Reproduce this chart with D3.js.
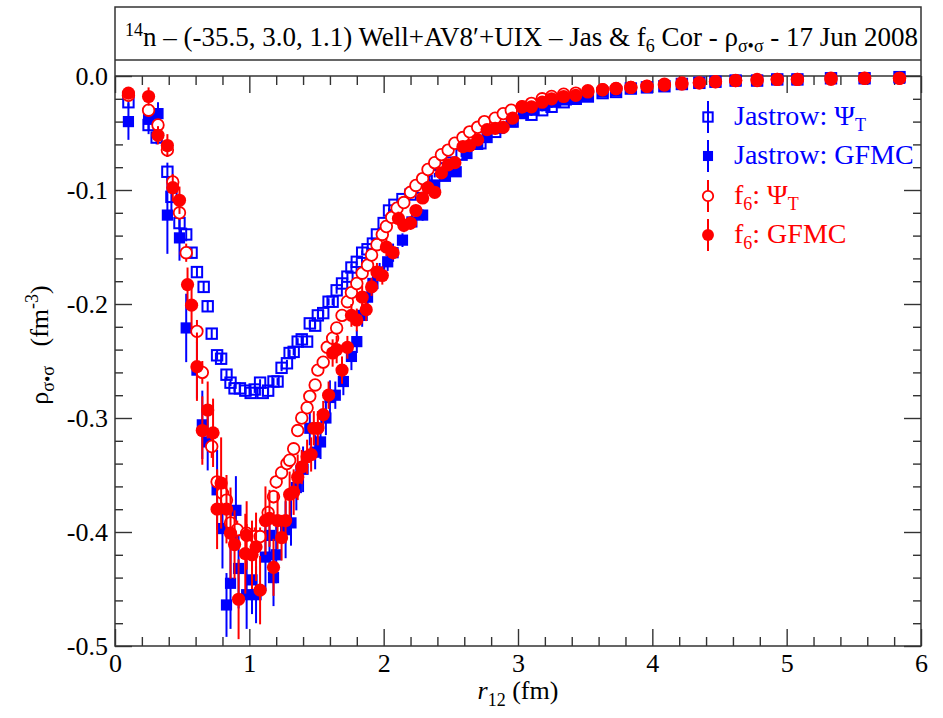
<!DOCTYPE html>
<html>
<head>
<meta charset="utf-8">
<script src="https://cdn.jsdelivr.net/npm/d3@7"></script>
<style>
  html, body { margin: 0; padding: 0; background: #fff; }
  svg text { font-family: "Liberation Serif", "Times New Roman", serif; }
</style>
</head>
<body>
<svg id="chart" width="943" height="718"></svg>
<script>
// ---- data: [r12 (fm), rho (fm^-3), error] ----
const jastrowPsiT = [
  [0.10,-0.023,0.004],[0.25,-0.043,0.008],[0.31,-0.054,0.006],[0.39,-0.084,0.008],[0.42,-0.106,0.012],
  [0.48,-0.129,0.006],[0.53,-0.139,0.006],[0.57,-0.155,0.005],[0.61,-0.172,0.005],[0.66,-0.185,0.005],
  [0.69,-0.202,0.005],[0.72,-0.226,0.004],[0.76,-0.245,0.004],[0.79,-0.248,0.004],[0.83,-0.262,0.004],
  [0.86,-0.269,0.003],[0.89,-0.274,0.003],[0.93,-0.274,0.003],[0.97,-0.276,0.003],[1.01,-0.278,0.003],
  [1.04,-0.275,0.003],[1.08,-0.269,0.003],[1.10,-0.278,0.003],[1.14,-0.276,0.003],[1.18,-0.268,0.003],
  [1.21,-0.268,0.003],[1.24,-0.256,0.003],[1.28,-0.252,0.003],[1.30,-0.243,0.003],[1.33,-0.242,0.003],
  [1.36,-0.233,0.003],[1.39,-0.231,0.003],[1.43,-0.233,0.003],[1.45,-0.217,0.003],[1.49,-0.219,0.003],
  [1.51,-0.210,0.003],[1.55,-0.208,0.003],[1.59,-0.198,0.003],[1.62,-0.198,0.003],[1.65,-0.188,0.003],
  [1.69,-0.182,0.003],[1.73,-0.176,0.003],[1.76,-0.168,0.003],[1.80,-0.163,0.003],[1.84,-0.155,0.002],
  [1.88,-0.152,0.002],[1.92,-0.147,0.002],[1.95,-0.139,0.002],[2.00,-0.129,0.002],[2.04,-0.118,0.002],
  [2.08,-0.113,0.002],[2.14,-0.108,0.002],[2.20,-0.104,0.002],[2.26,-0.098,0.002],[2.32,-0.092,0.002],
  [2.38,-0.087,0.002],[2.44,-0.081,0.002],[2.50,-0.076,0.002],[2.58,-0.069,0.002],[2.72,-0.059,0.002],
  [2.83,-0.049,0.002],[2.96,-0.040,0.002],[3.10,-0.034,0.001],[3.18,-0.030,0.001],[3.25,-0.027,0.001],
  [3.34,-0.023,0.001],[3.43,-0.020,0.001],[3.52,-0.018,0.001],[3.63,-0.015,0.001],[3.73,-0.014,0.001],
  [3.84,-0.011,0.001],[3.96,-0.010,0.001],[4.09,-0.009,0.001],[4.22,-0.007,0.001],[4.35,-0.006,0.001],
  [4.47,-0.005,0.001],[4.62,-0.004,0.001],[4.78,-0.004,0.001],[4.93,-0.003,0.001],[5.08,-0.003,0.001],
  [5.33,-0.002,0.001],[5.58,-0.002,0.001],[5.84,-0.001,0.001]
];

const jastrowGfmc = [
  [0.10,-0.040,0.016],[0.25,-0.038,0.010],[0.32,-0.033,0.010],[0.39,-0.122,0.034],[0.48,-0.142,0.020],
  [0.53,-0.221,0.030],[0.61,-0.258,0.025],[0.65,-0.306,0.030],[0.69,-0.321,0.025],[0.76,-0.363,0.035],
  [0.80,-0.397,0.035],[0.83,-0.464,0.028],[0.86,-0.445,0.040],[0.90,-0.381,0.030],[0.92,-0.432,0.035],
  [0.98,-0.455,0.030],[1.02,-0.442,0.030],[1.05,-0.455,0.025],[1.12,-0.422,0.030],[1.15,-0.403,0.025],
  [1.18,-0.440,0.025],[1.20,-0.420,0.025],[1.27,-0.398,0.025],[1.31,-0.392,0.020],[1.35,-0.361,0.020],
  [1.40,-0.345,0.020],[1.45,-0.309,0.015],[1.49,-0.330,0.015],[1.53,-0.321,0.015],[1.57,-0.300,0.015],
  [1.60,-0.282,0.015],[1.64,-0.280,0.012],[1.70,-0.268,0.012],[1.76,-0.246,0.012],[1.80,-0.233,0.010],
  [1.84,-0.210,0.010],[1.88,-0.194,0.010],[1.92,-0.182,0.008],[1.97,-0.172,0.008],[2.03,-0.163,0.008],
  [2.07,-0.155,0.008],[2.14,-0.144,0.006],[2.21,-0.128,0.006],[2.29,-0.122,0.005],[2.38,-0.097,0.005],
  [2.46,-0.088,0.004],[2.54,-0.084,0.004],[2.62,-0.068,0.004],[2.70,-0.060,0.003],[2.77,-0.054,0.003],
  [2.86,-0.046,0.003],[2.95,-0.040,0.003],[3.04,-0.033,0.002],[3.12,-0.030,0.002],[3.20,-0.026,0.002],
  [3.28,-0.023,0.002],[3.36,-0.021,0.002],[3.43,-0.019,0.002],[3.52,-0.017,0.001],[3.63,-0.014,0.001],
  [3.73,-0.013,0.001],[3.84,-0.011,0.001],[3.96,-0.010,0.001],[4.09,-0.009,0.001],[4.22,-0.007,0.001],
  [4.35,-0.006,0.001],[4.47,-0.005,0.001],[4.62,-0.004,0.001],[4.78,-0.004,0.001],[4.93,-0.003,0.001],
  [5.08,-0.003,0.001],[5.33,-0.002,0.001],[5.58,-0.002,0.001],[5.84,-0.002,0.001]
];

const f6PsiT = [
  [0.10,-0.017,0.003],[0.25,-0.030,0.004],[0.32,-0.043,0.005],[0.39,-0.065,0.006],[0.43,-0.093,0.006],
  [0.48,-0.120,0.006],[0.53,-0.155,0.008],[0.61,-0.224,0.010],[0.65,-0.260,0.010],[0.72,-0.325,0.010],
  [0.76,-0.356,0.010],[0.80,-0.366,0.008],[0.83,-0.372,0.008],[0.86,-0.392,0.008],[0.91,-0.398,0.008],
  [0.98,-0.401,0.008],[1.04,-0.404,0.008],[1.08,-0.404,0.008],[1.14,-0.383,0.006],[1.18,-0.369,0.006],
  [1.20,-0.356,0.006],[1.24,-0.348,0.006],[1.28,-0.340,0.006],[1.30,-0.337,0.005],[1.33,-0.327,0.005],
  [1.36,-0.311,0.005],[1.39,-0.300,0.005],[1.43,-0.291,0.005],[1.45,-0.281,0.005],[1.49,-0.271,0.004],
  [1.51,-0.258,0.004],[1.55,-0.251,0.004],[1.58,-0.238,0.004],[1.62,-0.230,0.004],[1.65,-0.221,0.004],
  [1.69,-0.210,0.004],[1.73,-0.198,0.003],[1.76,-0.190,0.003],[1.80,-0.182,0.003],[1.84,-0.173,0.003],
  [1.88,-0.166,0.003],[1.91,-0.157,0.003],[1.95,-0.148,0.003],[1.99,-0.139,0.003],[2.02,-0.132,0.003],
  [2.06,-0.124,0.003],[2.10,-0.116,0.002],[2.15,-0.111,0.002],[2.20,-0.102,0.002],[2.24,-0.096,0.002],
  [2.29,-0.090,0.002],[2.33,-0.082,0.002],[2.38,-0.076,0.002],[2.43,-0.069,0.002],[2.48,-0.065,0.002],
  [2.53,-0.059,0.002],[2.59,-0.054,0.002],[2.64,-0.049,0.002],[2.70,-0.045,0.002],[2.75,-0.040,0.002],
  [2.83,-0.037,0.001],[2.89,-0.033,0.001],[2.95,-0.030,0.001],[3.03,-0.027,0.001],[3.10,-0.024,0.001],
  [3.18,-0.020,0.001],[3.25,-0.018,0.001],[3.34,-0.016,0.001],[3.43,-0.015,0.001],[3.52,-0.013,0.001],
  [3.63,-0.012,0.001],[3.73,-0.011,0.001],[3.84,-0.010,0.001],[3.96,-0.009,0.001],[4.09,-0.008,0.001],
  [4.22,-0.007,0.001],[4.35,-0.006,0.001],[4.47,-0.005,0.001],[4.62,-0.004,0.001],[4.78,-0.004,0.001],
  [4.93,-0.003,0.001],[5.08,-0.003,0.001],[5.33,-0.002,0.001],[5.58,-0.002,0.001],[5.84,-0.002,0.001]
];

const f6Gfmc = [
  [0.10,-0.015,0.004],[0.25,-0.018,0.008],[0.32,-0.052,0.008],[0.39,-0.061,0.010],[0.43,-0.098,0.012],
  [0.48,-0.109,0.012],[0.54,-0.183,0.015],[0.57,-0.201,0.020],[0.61,-0.255,0.030],[0.65,-0.311,0.030],
  [0.69,-0.293,0.025],[0.73,-0.313,0.030],[0.76,-0.380,0.035],[0.79,-0.357,0.040],[0.83,-0.380,0.030],
  [0.86,-0.401,0.040],[0.89,-0.411,0.030],[0.92,-0.459,0.035],[0.97,-0.419,0.035],[0.98,-0.403,0.030],
  [1.02,-0.420,0.030],[1.05,-0.413,0.030],[1.08,-0.451,0.030],[1.12,-0.390,0.030],[1.15,-0.388,0.025],
  [1.18,-0.431,0.025],[1.21,-0.390,0.025],[1.24,-0.405,0.020],[1.27,-0.390,0.020],[1.30,-0.367,0.020],
  [1.33,-0.365,0.020],[1.36,-0.352,0.020],[1.39,-0.343,0.015],[1.43,-0.334,0.015],[1.46,-0.332,0.015],
  [1.48,-0.309,0.015],[1.51,-0.309,0.015],[1.55,-0.297,0.012],[1.59,-0.280,0.012],[1.62,-0.243,0.012],
  [1.65,-0.240,0.012],[1.69,-0.258,0.012],[1.73,-0.238,0.010],[1.76,-0.210,0.010],[1.80,-0.214,0.010],
  [1.84,-0.194,0.010],[1.87,-0.205,0.010],[1.91,-0.185,0.008],[1.95,-0.172,0.008],[1.99,-0.175,0.008],
  [2.02,-0.150,0.008],[2.07,-0.155,0.006],[2.11,-0.125,0.006],[2.15,-0.131,0.006],[2.20,-0.129,0.006],
  [2.24,-0.118,0.005],[2.29,-0.107,0.005],[2.33,-0.098,0.005],[2.38,-0.102,0.004],[2.43,-0.085,0.004],
  [2.48,-0.078,0.004],[2.53,-0.076,0.004],[2.59,-0.062,0.003],[2.64,-0.061,0.003],[2.70,-0.056,0.003],
  [2.77,-0.047,0.003],[2.83,-0.046,0.003],[2.89,-0.045,0.003],[2.96,-0.037,0.002],[3.03,-0.027,0.002],
  [3.10,-0.027,0.002],[3.18,-0.023,0.002],[3.25,-0.020,0.002],[3.34,-0.018,0.002],[3.43,-0.017,0.001],
  [3.52,-0.014,0.001],[3.63,-0.012,0.001],[3.73,-0.011,0.001],[3.84,-0.010,0.001],[3.96,-0.009,0.001],
  [4.09,-0.007,0.001],[4.22,-0.006,0.001],[4.35,-0.006,0.001],[4.47,-0.005,0.001],[4.62,-0.004,0.001],
  [4.78,-0.003,0.001],[4.93,-0.003,0.001],[5.08,-0.003,0.001],[5.33,-0.003,0.001],[5.58,-0.002,0.001],
  [5.84,-0.002,0.001]
];

// ---- ticks ----
const xMajorTicks = [0, 1, 2, 3, 4, 5, 6];
const xTickLabels = ["0", "1", "2", "3", "4", "5", "6"];
const xMinorTicks = [0.2,0.4,0.6,0.8,1.2,1.4,1.6,1.8,2.2,2.4,2.6,2.8,3.2,3.4,3.6,3.8,4.2,4.4,4.6,4.8,5.2,5.4,5.6,5.8];
const yMajorTicks = [0, -0.1, -0.2, -0.3, -0.4, -0.5];
const yTickLabels = ["0.0", "-0.1", "-0.2", "-0.3", "-0.4", "-0.5"];
const yMinorTicks = [-0.02,-0.04,-0.06,-0.08,-0.12,-0.14,-0.16,-0.18,-0.22,-0.24,-0.26,-0.28,
                     -0.32,-0.34,-0.36,-0.38,-0.42,-0.44,-0.46,-0.48];

const BLUE = "#0000ff", RED = "#ff0000", AXIS = "#333";
const FONT = 26, FONT_BIG = 27, FONT_SUB = 18;

const svg = d3.select("#chart");
const L = 115, R = 921, TOP = 76, BOT = 646, BOX_TOP = 7, TITLE_BOT = 60;

const x = d3.scaleLinear().domain([0, 6]).range([L, R]);
const y = d3.scaleLinear().domain([-0.5, 0]).range([BOT, TOP]);

// ---- axes ----
function styleAxis(g) {
  g.select(".domain").remove();
  g.selectAll(".tick line").attr("stroke", AXIS).attr("stroke-width", 1.4);
  g.selectAll(".tick text").attr("fill", "#000").attr("font-size", FONT)
    .attr("font-family", "Liberation Serif, serif");
}
const noLabel = () => "";

svg.append("g").attr("transform", `translate(0,${BOT})`)
  .call(d3.axisBottom(x).tickValues(xMajorTicks).tickSize(-17).tickPadding(8)
    .tickFormat((d, i) => xTickLabels[i])).call(styleAxis);
svg.append("g").attr("transform", `translate(0,${BOT})`)
  .call(d3.axisBottom(x).tickValues(xMinorTicks).tickSize(-9).tickFormat(noLabel)).call(styleAxis);
svg.append("g").attr("transform", `translate(0,${TOP})`)
  .call(d3.axisTop(x).tickValues(xMajorTicks).tickSize(-17).tickFormat(noLabel)).call(styleAxis);
svg.append("g").attr("transform", `translate(0,${TOP})`)
  .call(d3.axisTop(x).tickValues(xMinorTicks).tickSize(-9).tickFormat(noLabel)).call(styleAxis);

svg.append("g").attr("transform", `translate(${L},0)`)
  .call(d3.axisLeft(y).tickValues(yMajorTicks).tickSize(-17).tickPadding(7)
    .tickFormat((d, i) => yTickLabels[i])).call(styleAxis);
svg.append("g").attr("transform", `translate(${L},0)`)
  .call(d3.axisLeft(y).tickValues(yMinorTicks).tickSize(-8).tickFormat(noLabel)).call(styleAxis);
svg.append("g").attr("transform", `translate(${R},0)`)
  .call(d3.axisRight(y).tickValues(yMajorTicks).tickSize(-17).tickFormat(noLabel)).call(styleAxis);
svg.append("g").attr("transform", `translate(${R},0)`)
  .call(d3.axisRight(y).tickValues(yMinorTicks).tickSize(-8).tickFormat(noLabel)).call(styleAxis);

// ---- frame: title box on top of the plot box ----
svg.append("rect").attr("x", L).attr("y", BOX_TOP).attr("width", R - L).attr("height", BOT - BOX_TOP)
  .attr("fill", "none").attr("stroke", AXIS).attr("stroke-width", 1.5);
svg.append("line").attr("x1", L).attr("x2", R).attr("y1", TITLE_BOT).attr("y2", TITLE_BOT)
  .attr("stroke", AXIS).attr("stroke-width", 1.5);
svg.append("line").attr("x1", L).attr("x2", R).attr("y1", TOP).attr("y2", TOP)
  .attr("stroke", AXIS).attr("stroke-width", 1.5);

// ---- title ----
const title = svg.append("text").attr("x", 125).attr("y", 46).attr("font-size", FONT_BIG).attr("fill", "#000");
title.append("tspan").attr("font-size", FONT_SUB).attr("dy", -10).text("14");
title.append("tspan").attr("dy", 10).text("n \u2013 (-35.5, 3.0, 1.1) Well+AV8\u2032+UIX \u2013 Jas & f");
title.append("tspan").attr("font-size", FONT_SUB).attr("dy", 6).text("6");
title.append("tspan").attr("dy", -6).text(" Cor - \u03C1");
title.append("tspan").attr("font-size", FONT_SUB).attr("dy", 6).text("\u03C3\u2022\u03C3");
title.append("tspan").attr("dy", -6).text(" - 17 Jun 2008");

// ---- axis titles ----
const xt = svg.append("text").attr("x", 518).attr("y", 699).attr("text-anchor", "middle")
  .attr("font-size", FONT).attr("fill", "#000");
xt.append("tspan").attr("font-style", "italic").text("r");
xt.append("tspan").attr("font-size", FONT_SUB).attr("dy", 7).text("12");
xt.append("tspan").attr("dy", -7).text(" (fm)");

const yt = svg.append("text").attr("transform", "translate(48,345) rotate(-90)")
  .attr("text-anchor", "middle").attr("font-size", FONT).attr("fill", "#000");
yt.append("tspan").text("\u03C1");
yt.append("tspan").attr("font-size", FONT_SUB).attr("dy", 6).text("\u03C3\u2022\u03C3");
yt.append("tspan").attr("dy", -6).text("\u2002 (fm");
yt.append("tspan").attr("font-size", FONT_SUB).attr("dy", -10).text("-3");
yt.append("tspan").attr("dy", 10).text(")");

// ---- series ----
const series = [
  { data: jastrowPsiT, color: BLUE, shape: "square", filled: false },
  { data: jastrowGfmc, color: BLUE, shape: "square", filled: true },
  { data: f6PsiT, color: RED, shape: "circle", filled: false },
  { data: f6Gfmc, color: RED, shape: "circle", filled: true }
];

function drawMarker(g, s, cx, cy, size) {
  if (s.shape === "square") {
    const h = s.filled ? size * 0.56 : size * 0.52;
    g.append("rect").attr("x", cx - h).attr("y", cy - h).attr("width", 2 * h).attr("height", 2 * h)
      .attr("fill", s.filled ? s.color : "none").attr("stroke", s.color)
      .attr("stroke-width", s.filled ? 0 : 2);
  } else {
    const r = s.filled ? size * 0.66 : size * 0.58;
    g.append("circle").attr("cx", cx).attr("cy", cy).attr("r", r)
      .attr("fill", s.filled ? s.color : "#fff").attr("stroke", s.color)
      .attr("stroke-width", s.filled ? 0 : 1.8);
  }
}

series.forEach(s => {
  const g = svg.append("g");
  g.selectAll("line.err").data(s.data).join("line").attr("class", "err")
    .attr("x1", d => x(d[0])).attr("x2", d => x(d[0]))
    .attr("y1", d => y(d[1] - d[2])).attr("y2", d => y(d[1] + d[2]))
    .attr("stroke", s.color).attr("stroke-width", 2);
  s.data.forEach(d => drawMarker(g, s, x(d[0]), y(d[1]), 10));
});

// ---- legend ----
const legY = [117, 156, 196, 235];
series.forEach((s, i) => {
  const g = svg.append("g");
  const cy = legY[i];
  g.append("line").attr("x1", 708).attr("x2", 708).attr("y1", cy - 16).attr("y2", cy + 16)
    .attr("stroke", s.color).attr("stroke-width", 2);
  drawMarker(g, s, 708, cy, 9);
  const t = g.append("text").attr("x", 734).attr("y", cy + 8).attr("font-size", FONT_BIG + 1).attr("fill", s.color);
  if (i === 0) {
    t.append("tspan").text("Jastrow: \u03A8");
    t.append("tspan").attr("font-size", FONT_SUB).attr("dy", 6).text("T");
  } else if (i === 1) {
    t.append("tspan").text("Jastrow: GFMC");
  } else {
    t.append("tspan").text("f");
    t.append("tspan").attr("font-size", FONT_SUB).attr("dy", 6).text("6");
    t.append("tspan").attr("dy", -6).text(i === 2 ? ": \u03A8" : ": GFMC");
    if (i === 2) t.append("tspan").attr("font-size", FONT_SUB).attr("dy", 6).text("T");
  }
});
</script>
</body>
</html>
